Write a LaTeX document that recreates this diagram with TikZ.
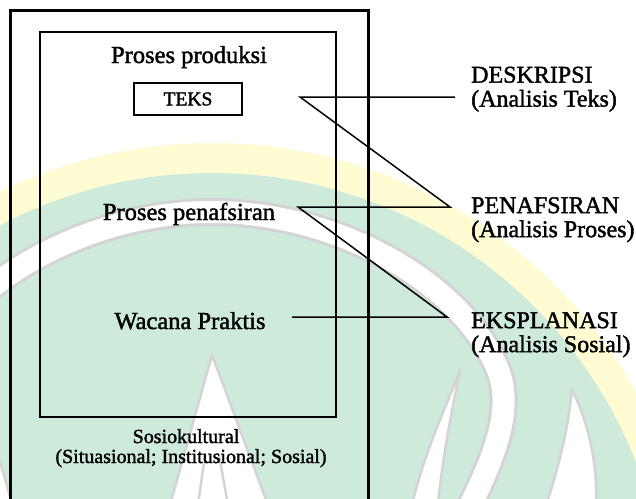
\documentclass[tikz,border=0pt]{standalone}
\usepackage{fontspec}
\setmainfont{Liberation Serif}[FakeBold=1.6]
\definecolor{wmgreen}{HTML}{CDEADB}
\definecolor{wmyellow}{HTML}{FFFBD3}
\definecolor{wmgrey}{HTML}{D4D4D4}
\begin{document}
\begin{tikzpicture}[x=1pt,y=-1pt,
  txt/.style={inner sep=0pt, font=\fontsize{24.5}{26}\selectfont},
  lbl/.style={inner sep=0pt, align=left, anchor=north west, font=\fontsize{24}{24}\selectfont},
  smalltxt/.style={inner sep=0pt, font=\fontsize{20}{20}\selectfont},
  outerbox/.style={draw, line width=3pt},
  innerbox/.style={draw, line width=2pt},
  teksbox/.style={draw, line width=2.4pt, inner sep=0pt, font=\fontsize{19.5}{20}\selectfont},
  conn/.style={draw, line width=1.5pt},
  wmband/.style={draw=wmgrey, line width=3pt, double=white, double distance=#1},
  wmflame/.style={fill=white, draw=wmgrey, line width=2.5pt, line join=round}
]
\clip (0,0) rectangle (636,498);
% watermark (faint background logo)
\fill[wmyellow] (212,628) circle [radius=485];
\fill[wmgreen] (212,628) circle [radius=455];
\draw[wmband=22pt] (-44,510) .. controls (-66,465) and (-91,412.5) .. (-74,370)
  .. controls (-40,285) and (84,212) .. (212,212)
  .. controls (340,212) and (464,285) .. (498,370)
  .. controls (515,412.5) and (490,465) .. (468,510);
\draw[wmflame] (460,370) .. controls (445,410) and (425,450) .. (412,505) -- (438,505)
  .. controls (442,460) and (452,410) .. (460,370) -- cycle;
\draw[wmflame] (-36,370) .. controls (-21,410) and (-1,450) .. (12,505) -- (-14,505)
  .. controls (-18,460) and (-28,410) .. (-36,370) -- cycle;
\draw[wmflame] (572,390) .. controls (590,425) and (598,470) .. (596,505) -- (546,505)
  .. controls (558,470) and (568,430) .. (572,390) -- cycle;
\draw[wmflame] (212,355) -- (268,505) -- (170,505) -- cycle;
\draw[wmgrey, line width=2.5pt] (205,455) -- (198,505) (219,455) -- (228,505);
% frames
\draw[outerbox] (10,10) rectangle (368,530);
\node[innerbox, minimum width=296pt, minimum height=385pt] (wacana) at (188,224.5) {};
\node[teksbox, minimum width=108pt, minimum height=32pt] (teks) at (188,99) {TEKS};
% texts
\node[txt, anchor=base] (prod) at (189,63) {Proses produksi};
\node[txt, anchor=base] (penaf) at (189,220) {Proses penafsiran};
\node[txt, anchor=base] (prakt) at (190,329) {Wacana Praktis};
\node[smalltxt, anchor=base] (sos1) at (186,443) {Sosiokultural};
\node[smalltxt, anchor=base] (sos2) at (191,463) {(Situasional; Institusional; Sosial)};
\node[lbl] (desk) at (471,66.5) {DESKRIPSI\\(Analisis Teks)};
\node[lbl] (pena) at (471,197) {PENAFSIRAN\\(Analisis Proses)};
\node[lbl] (eksp) at (471,312) {EKSPLANASI\\(Analisis Sosial)};
% connectors
\coordinate (z1) at (455,97);
\coordinate (z2) at (300,97);
\coordinate (z3) at (450,207);
\coordinate (z4) at (298,207);
\coordinate (z5) at (447,317);
\coordinate (z6) at (292,317);
\draw[conn] (z1) -- (z2) -- (z3) -- (z4) -- (z5) -- (z6);
\end{tikzpicture}
\end{document}
